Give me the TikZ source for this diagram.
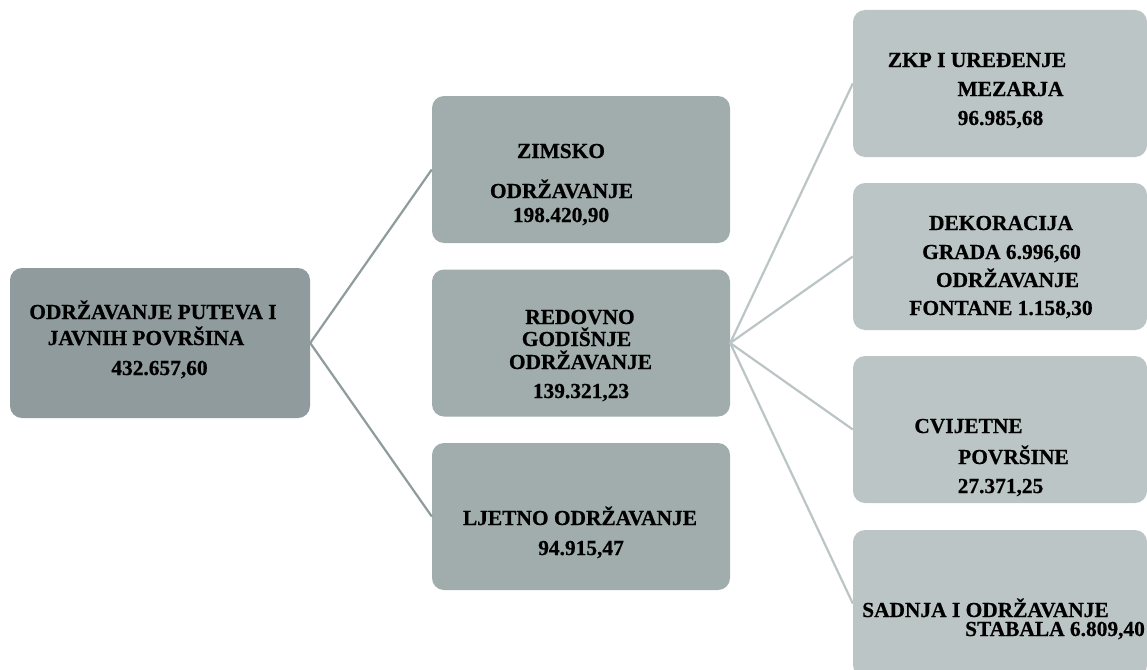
\documentclass[tikz,border=0pt]{standalone}
\usepackage{fontspec}
\setmainfont[BoldFeatures={FakeBold=0.6}]{Liberation Serif}
\definecolor{rootfill}{HTML}{8F9B9C}
\definecolor{midfill}{HTML}{A1ACAC}
\definecolor{rightfill}{HTML}{BCC5C6}
\definecolor{linedark}{HTML}{8F9B9C}
\definecolor{linelight}{HTML}{BCC5C6}
\tikzset{
  box/.style={rounded corners=12pt, inner sep=0pt, draw=none},
  rootbox/.style={box, fill=rootfill, minimum width=300pt, minimum height=150pt},
  midbox/.style={box, fill=midfill, minimum width=298pt, minimum height=147pt},
  rightbox/.style={box, fill=rightfill, minimum width=294pt, minimum height=147pt},
  lbl/.style={inner sep=0pt, anchor=base, font=\fontsize{21.4}{24}\selectfont\bfseries, text=black},
  conndark/.style={draw=linedark, line width=2.2pt},
  connlight/.style={draw=linelight, line width=2.2pt}
}
\begin{document}
\begin{tikzpicture}[x=1pt,y=-1pt]
\clip (0,0) rectangle (1147,669);
\fill[white] (0,0) rectangle (1147,669);
% connectors (drawn first, boxes cover their ends)
\coordinate (rootE) at (310,343);
\coordinate (redE) at (730,343);
% boxes
\node[rootbox] (root) at (160,343) {};
\node[midbox] (zim) at (581,169.5) {};
\node[midbox] (red) at (581,343) {};
\node[midbox] (ljet) at (581,516.5) {};
\node[rightbox] (zkp) at (1000,83.5) {};
\node[rightbox] (dek) at (1000,256.5) {};
\node[rightbox] (cvi) at (1000,429.5) {};
\node[rightbox] (sad) at (1000,603.5) {};
\draw[conndark] (root.east) -- (zim.west);
\draw[conndark] (root.east) -- (ljet.west);
\draw[connlight] (red.east) -- (zkp.west);
\draw[connlight] (red.east) -- (dek.west);
\draw[connlight] (red.east) -- (cvi.west);
\draw[connlight] (red.east) -- (sad.west);
% root text
\node[lbl] (r1) at (153,319) {ODRŽAVANJE PUTEVA I};
\node[lbl] (r2) at (146,345) {JAVNIH POVRŠINA};
\node[lbl] (r3) at (159.5,375) {432.657,60};
% zimsko
\node[lbl] (z1) at (561,158) {ZIMSKO};
\node[lbl] (z2) at (561.5,198) {ODRŽAVANJE};
\node[lbl] (z3) at (561,222) {198.420,90};
% redovno
\node[lbl] (g1) at (580,324) {REDOVNO};
\node[lbl] (g2) at (576.5,346) {GODIŠNJE};
\node[lbl] (g3) at (580.5,369) {ODRŽAVANJE};
\node[lbl] (g4) at (581,398) {139.321,23};
% ljetno
\node[lbl] (l1) at (580,525) {LJETNO ODRŽAVANJE};
\node[lbl] (l2) at (581,555) {94.915,47};
% right 1
\node[lbl] (k1) at (977,67) {ZKP I UREĐENJE};
\node[lbl] (k2) at (1010.5,96) {MEZARJA};
\node[lbl] (k3) at (1000.5,125) {96.985,68};
% right 2
\node[lbl] (d1) at (1001,230) {DEKORACIJA};
\node[lbl] (d2) at (1001.5,259) {GRADA 6.996,60};
\node[lbl] (d3) at (1007.5,287) {ODRŽAVANJE};
\node[lbl] (d4) at (1001,315) {FONTANE 1.158,30};
% right 3
\node[lbl] (c1) at (968.5,433) {CVIJETNE};
\node[lbl] (c2) at (1013.5,464) {POVRŠINE};
\node[lbl] (c3) at (1000.5,493) {27.371,25};
% right 4
\node[lbl] (s1) at (985.5,617) {SADNJA I ODRŽAVANJE};
\node[lbl] (s2) at (1055,636) {STABALA 6.809,40};
\end{tikzpicture}
\end{document}
